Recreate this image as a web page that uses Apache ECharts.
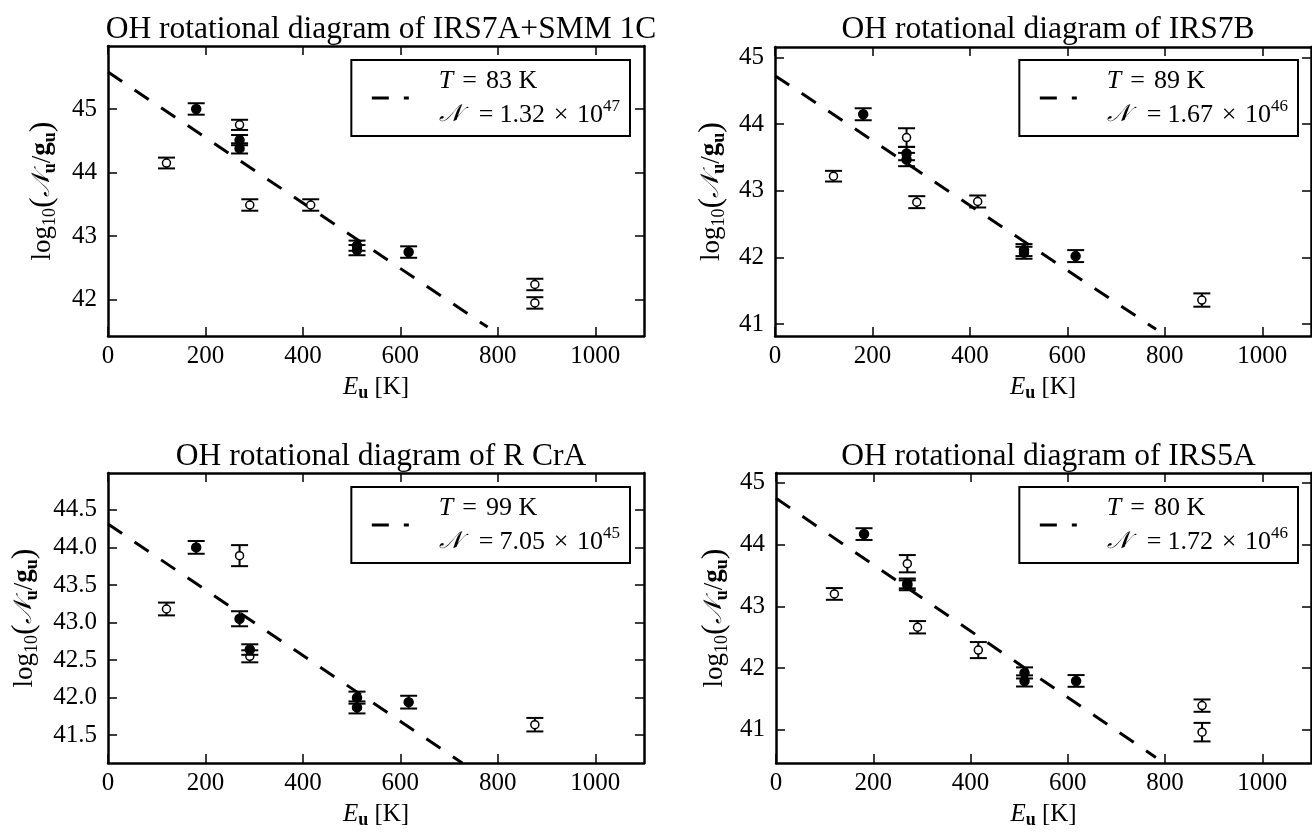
<!DOCTYPE html>
<html><head><meta charset="utf-8">
<script src="https://cdn.jsdelivr.net/npm/echarts@6/dist/echarts.min.js"></script>
<style>html,body{margin:0;padding:0;background:#fff}#c{width:1312px;height:832px}</style>
</head><body><div id="c"></div>
<script>
// ---------- data ----------
const titles = ['OH rotational diagram of IRS7A+SMM 1C', 'OH rotational diagram of IRS7B',
                'OH rotational diagram of R CrA', 'OH rotational diagram of IRS5A'];
const fitT = ['83', '89', '99', '80'];
const fitN = ['1.32', '1.67', '7.05', '1.72'];
const fitNexp = ['47', '46', '45', '46'];

const xTicks = [0, 200, 400, 600, 800, 1000];
const xRange = [0, 1100];
const yTicks1 = [42, 43, 44, 45];
const yTicks2 = [41, 42, 43, 44, 45];
const yTicks3 = [41.5, 42.0, 42.5, 43.0, 43.5, 44.0, 44.5];
const yTicks4 = [41, 42, 43, 44, 45];
const yRange1 = [41.43, 45.99];
const yRange2 = [40.82, 45.16];
const yRange3 = [41.13, 44.99];
const yRange4 = [40.46, 45.16];

// panel 1: IRS7A+SMM 1C
const openE1 = [120, 270, 291, 416, 876, 876];
const openY1 = [44.15, 44.75, 43.49, 43.49, 42.24, 41.95];
const openErr1 = [0.085, 0.08, 0.09, 0.09, 0.09, 0.09];
const filledE1 = [181, 270, 270, 511, 511, 617];
const filledY1 = [45.0, 44.51, 44.38, 42.85, 42.78, 42.75];
const filledErr1 = [0.09, 0.08, 0.08, 0.08, 0.08, 0.09];
const fitE1 = [0, 779];
const fitY1 = [45.58, 41.57];

// panel 2: IRS7B
const openE2 = [120, 270, 291, 416, 876];
const openY2 = [43.22, 43.80, 42.83, 42.84, 41.36];
const openErr2 = [0.08, 0.14, 0.09, 0.09, 0.1];
const filledE2 = [181, 270, 270, 511, 511, 617];
const filledY2 = [44.15, 43.56, 43.47, 42.11, 42.07, 42.02];
const filledErr2 = [0.09, 0.1, 0.1, 0.09, 0.09, 0.09];
const fitE2 = [0, 782];
const fitY2 = [44.73, 40.92];

// panel 3: R CrA
const openE3 = [120, 270, 291, 876];
const openY3 = [43.18, 43.89, 42.55, 41.64];
const openErr3 = [0.085, 0.14, 0.08, 0.09];
const filledE3 = [181, 270, 291, 511, 511, 617];
const filledY3 = [44.0, 43.05, 42.64, 42.0, 41.87, 41.94];
const filledErr3 = [0.085, 0.1, 0.07, 0.08, 0.08, 0.085];
const fitE3 = [0, 727];
const fitY3 = [44.31, 41.13];

// panel 4: IRS5A
const openE4 = [120, 270, 291, 416, 876, 876];
const openY4 = [43.20, 43.69, 42.66, 42.29, 41.39, 40.96];
const openErr4 = [0.095, 0.14, 0.1, 0.13, 0.1, 0.15];
const filledE4 = [181, 270, 270, 511, 511, 617];
const filledY4 = [44.17, 43.37, 43.34, 41.92, 41.79, 41.79];
const filledErr4 = [0.095, 0.08, 0.08, 0.09, 0.09, 0.095];
const fitE4 = [0, 781];
const fitY4 = [44.75, 40.55];

// ---------- layout / style ----------
const FONT = "'Liberation Serif','Times New Roman',serif";
const SCRIPT_FONT = "'DejaVu Serif','Liberation Serif',serif";
const grids = [
  {left: 108, top: 46, width: 536, height: 290},
  {left: 775, top: 47, width: 536, height: 289},
  {left: 108, top: 473, width: 536, height: 290},
  {left: 776, top: 473, width: 535, height: 290}
];
const yNameGaps = [49, 47, 67, 45];
const legendPos = [
  {right: 682, top: 60}, {right: 14, top: 60},
  {right: 682, top: 487}, {right: 14, top: 487}
];
const titleTops = [9, 9, 436, 436];

const panels = [
  {openE: openE1, openY: openY1, openErr: openErr1, filledE: filledE1, filledY: filledY1, filledErr: filledErr1, fitE: fitE1, fitY: fitY1, yTicks: yTicks1, yRange: yRange1, dec: 0},
  {openE: openE2, openY: openY2, openErr: openErr2, filledE: filledE2, filledY: filledY2, filledErr: filledErr2, fitE: fitE2, fitY: fitY2, yTicks: yTicks2, yRange: yRange2, dec: 0},
  {openE: openE3, openY: openY3, openErr: openErr3, filledE: filledE3, filledY: filledY3, filledErr: filledErr3, fitE: fitE3, fitY: fitY3, yTicks: yTicks3, yRange: yRange3, dec: 1},
  {openE: openE4, openY: openY4, openErr: openErr4, filledE: filledE4, filledY: filledY4, filledErr: filledErr4, fitE: fitE4, fitY: fitY4, yTicks: yTicks4, yRange: yRange4, dec: 0}
];

const axisLine = {show: true, onZero: false, lineStyle: {color: '#000', width: 2.5}};
const DASH = [17, 15];

const nameRich = {
  n: {fontFamily: FONT, fontSize: 27, color: '#000', lineHeight: 33},
  p: {fontFamily: FONT, fontSize: 32, color: '#000', lineHeight: 33},
  it: {fontFamily: FONT, fontSize: 25, fontStyle: 'italic', color: '#000', lineHeight: 30},
  scr: {fontFamily: SCRIPT_FONT, fontSize: 25, fontStyle: 'italic', color: '#000', lineHeight: 33},
  gb: {fontFamily: FONT, fontSize: 27, fontWeight: 'bold', color: '#000', lineHeight: 33},
  sb: {fontFamily: FONT, fontSize: 18, color: '#000', verticalAlign: 'bottom', lineHeight: 20},
  sbb: {fontFamily: FONT, fontSize: 18, fontWeight: 'bold', color: '#000', verticalAlign: 'bottom', lineHeight: 20}
};

function barItem(filled) {
  return function (params, api) {
    const x = api.value(0), y = api.value(1), e = api.value(2);
    const c = api.coord([x, y]);
    const t = api.coord([x, y + e]);
    const b = api.coord([x, y - e]);
    const hw = 8.5;
    const ls = {stroke: '#000', lineWidth: 2};
    return {
      type: 'group',
      children: [
        {type: 'line', shape: {x1: c[0], y1: t[1], x2: c[0], y2: b[1]}, style: ls},
        {type: 'line', shape: {x1: c[0] - hw, y1: t[1], x2: c[0] + hw, y2: t[1]}, style: ls},
        {type: 'line', shape: {x1: c[0] - hw, y1: b[1], x2: c[0] + hw, y2: b[1]}, style: ls},
        {type: 'circle', shape: {cx: c[0], cy: c[1], r: filled ? 4.5 : 4},
         style: {fill: filled ? '#000' : '#fff', stroke: '#000', lineWidth: 1.5}}
      ]
    };
  };
}

const option = {
  animation: false,
  backgroundColor: '#fff',
  grid: [], xAxis: [], yAxis: [], series: [], legend: [], title: []
};

panels.forEach(function (p, i) {
  const g = grids[i];
  option.grid.push(Object.assign({outerBoundsMode: 'none', containLabel: false}, g));
  option.title.push({
    text: titles[i], left: g.left + g.width / 2, top: titleTops[i], textAlign: 'center',
    textStyle: {fontFamily: FONT, fontSize: 31.5, fontWeight: 'normal', color: '#000'}
  });
  // bottom x axis
  option.xAxis.push({
    type: 'value', gridIndex: i, position: 'bottom', min: xRange[0], max: xRange[1],
    axisLine: axisLine,
    axisTick: {show: true, inside: true, length: 9, lineStyle: {color: '#000', width: 1.5}, customValues: xTicks},
    axisLabel: {show: true, customValues: xTicks, color: '#000', fontFamily: FONT, fontSize: 25, margin: 8,
      formatter: function (v) { return String(v); }},
    splitLine: {show: false},
    name: '{it|E}{sbb|u} [K]', nameLocation: 'middle', nameGap: 36,
    nameTextStyle: {fontFamily: FONT, fontSize: 25, color: '#000', lineHeight: 30, rich: nameRich}
  });
  // top x axis (ticks only)
  option.xAxis.push({
    type: 'value', gridIndex: i, position: 'top', min: xRange[0], max: xRange[1],
    axisLine: axisLine,
    axisTick: {show: true, inside: true, length: 9, lineStyle: {color: '#000', width: 1.5}, customValues: xTicks},
    axisLabel: {show: false}, splitLine: {show: false}
  });
  // left y axis
  option.yAxis.push({
    type: 'value', gridIndex: i, position: 'left', min: p.yRange[0], max: p.yRange[1],
    axisLine: axisLine,
    axisTick: {show: true, inside: true, length: 9, lineStyle: {color: '#000', width: 1.5}, customValues: p.yTicks},
    axisLabel: {show: true, customValues: p.yTicks, color: '#000', fontFamily: FONT, fontSize: 25, margin: 11,
      formatter: (function (d) { return function (v) { return Number(v).toFixed(d); }; })(p.dec)},
    splitLine: {show: false},
    name: '{n|log}{sb|10}{p|(}{scr|𝒩}{sbb|u}{n|/}{gb|g}{sbb|u}{p|)}',
    nameLocation: 'middle', nameGap: yNameGaps[i],
    nameTextStyle: {fontFamily: FONT, fontSize: 27, color: '#000', lineHeight: 33, rich: nameRich}
  });
  // right y axis (ticks only)
  option.yAxis.push({
    type: 'value', gridIndex: i, position: 'right', min: p.yRange[0], max: p.yRange[1],
    axisLine: axisLine,
    axisTick: {show: true, inside: true, length: 9, lineStyle: {color: '#000', width: 1.5}, customValues: p.yTicks},
    axisLabel: {show: false}, splitLine: {show: false}
  });

  const fitName = 'fit' + i;
  option.series.push({
    type: 'line', name: fitName, xAxisIndex: 2 * i, yAxisIndex: 2 * i,
    data: p.fitE.map(function (e, k) { return [e, p.fitY[k]]; }),
    symbol: 'none', showSymbol: false, clip: true, silent: true,
    lineStyle: {color: '#000', width: 3, type: DASH}, itemStyle: {color: '#000'}, z: 2
  });
  option.series.push({
    type: 'custom', name: 'open' + i, xAxisIndex: 2 * i, yAxisIndex: 2 * i,
    renderItem: barItem(false), encode: {x: 0, y: 1}, silent: true, z: 3,
    data: p.openE.map(function (e, k) { return [e, p.openY[k], p.openErr[k]]; })
  });
  option.series.push({
    type: 'custom', name: 'filled' + i, xAxisIndex: 2 * i, yAxisIndex: 2 * i,
    renderItem: barItem(true), encode: {x: 0, y: 1}, silent: true, z: 4,
    data: p.filledE.map(function (e, k) { return [e, p.filledY[k], p.filledErr[k]]; })
  });

  option.legend.push(Object.assign({
    data: [fitName], orient: 'vertical', selectedMode: false,
    padding: [4, 10, 4, 19], borderColor: '#000', borderWidth: 2, borderRadius: 0,
    backgroundColor: '#fff', itemWidth: 37, itemHeight: 14,
    itemStyle: {opacity: 0, color: 'rgba(0,0,0,0)', borderWidth: 0},
    lineStyle: {color: '#000', width: 3, type: DASH, opacity: 1},
    formatter: (function (k) {
      return function () {
        return '{it|T}{eq|=}' + fitT[k] + ' K\n{scr|𝒩}{eq2|=}' + fitN[k] + '\u2004×\u2004' + '10{sup|' + fitNexp[k] + '}';
      };
    })(i),
    textStyle: {
      fontFamily: FONT, fontSize: 26, lineHeight: 34, color: '#000', padding: [0, 0, 0, 25],
      rich: {
        it: {fontFamily: FONT, fontSize: 26, fontStyle: 'italic', color: '#000', lineHeight: 34},
        scr: {fontFamily: SCRIPT_FONT, fontSize: 24, fontStyle: 'italic', color: '#000', lineHeight: 34},
        eq: {fontFamily: FONT, fontSize: 26, color: '#000', lineHeight: 34, padding: [0, 9, 0, 9]},
        eq2: {fontFamily: FONT, fontSize: 26, color: '#000', lineHeight: 34, padding: [0, 6, 0, 17]},
        sup: {fontFamily: FONT, fontSize: 17, color: '#000', verticalAlign: 'top', lineHeight: 26}
      }
    }
  }, legendPos[i]));
});

const chart = echarts.init(document.getElementById('c'), null, {renderer: 'canvas'});
chart.setOption(option);
</script>
</body></html>
